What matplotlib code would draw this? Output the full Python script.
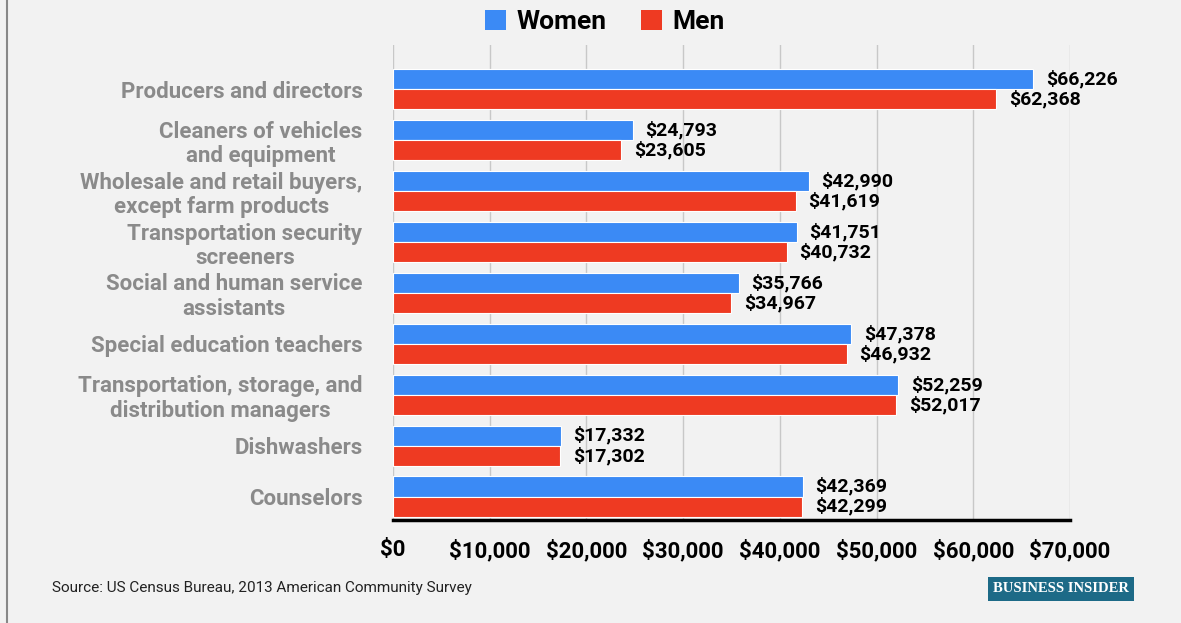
import matplotlib.pyplot as plt
import numpy as np
from matplotlib.lines import Line2D
from matplotlib.patches import Patch

plt.rcParams['font.family'] = ['Roboto', 'DejaVu Sans']

# ocupaciones y salario medio por sexo
categorias = [
    "Producers and directors",
    "Cleaners of vehicles\nand equipment",
    "Wholesale and retail buyers,\nexcept farm products",
    "Transportation security\nscreeners",
    "Social and human service\nassistants",
    "Special education teachers",
    "Transportation, storage, and\ndistribution managers",
    "Dishwashers",
    "Counselors",
]
mujeres = [66226, 24793, 42990, 41751, 35766, 47378, 52259, 17332, 42369]
hombres = [62368, 23605, 41619, 40732, 34967, 46932, 52017, 17302, 42299]
ticks_x = [0, 10000, 20000, 30000, 40000, 50000, 60000, 70000]

azul = "#3b8af5"
rojo = "#ee3a22"
fondo = "#f2f2f2"

fig = plt.figure(figsize=(11.81, 6.23), dpi=100, facecolor=fondo)
ax = fig.add_axes([0.3328, 0.1653, 0.5732, 0.7624])
ax.set_facecolor(fondo)

y = np.arange(len(categorias))
alto = 0.395
ax.barh(y - alto / 2, mujeres, height=alto, color=azul, edgecolor="white", linewidth=0.8, zorder=3)
ax.barh(y + alto / 2, hombres, height=alto, color=rojo, edgecolor="white", linewidth=0.8, zorder=3)

# etiquetas de valor
for i in range(len(categorias)):
    ax.text(mujeres[i] + 1300, y[i] - alto / 2, "${:,}".format(mujeres[i]),
            va="center", ha="left", fontsize=14, fontweight="bold", color="black")
    ax.text(hombres[i] + 1300, y[i] + alto / 2, "${:,}".format(hombres[i]),
            va="center", ha="left", fontsize=14, fontweight="bold", color="black")

ax.set_xlim(0, 70000)
ax.set_ylim(8.46, -0.87)
ax.set_xticks(ticks_x)
ax.set_xticklabels(["${:,}".format(t) for t in ticks_x], fontsize=16, fontweight="bold")
ax.set_yticks(y)
ax.set_yticklabels(categorias, fontsize=16, fontweight="bold", color="#8a8a8a",
                   multialignment="center", linespacing=1.15)
ax.tick_params(axis="both", length=0)
ax.tick_params(axis="x", pad=14)
ax.tick_params(axis="y", pad=22)
ax.grid(axis="x", color="#c8c8c8", linewidth=1, zorder=0)

for lado in ["top", "right", "left"]:
    ax.spines[lado].set_visible(False)
ax.spines["bottom"].set_color("black")
ax.spines["bottom"].set_linewidth(2.5)
ax.spines["bottom"].set_zorder(4)

# leyenda arriba
handles = [Patch(facecolor=azul, label="Women"), Patch(facecolor=rojo, label="Men")]
fig.legend(handles=handles, loc="upper center", bbox_to_anchor=(0.512, 1.022), ncol=2,
           frameon=False, prop={"size": 19, "weight": "bold"},
           handlelength=0.8, handleheight=0.8, handletextpad=0.4, columnspacing=1.3)

fig.text(52 / 1181, 1 - 588 / 623, "Source: US Census Bureau, 2013 American Community Survey",
         fontsize=11, va="center", ha="left", color="#222222")
fig.text(1061 / 1181, 1 - 589 / 623, "BUSINESS INSIDER", fontsize=10.5, fontweight="bold",
         family="Liberation Serif", color="white", va="center", ha="center",
         bbox=dict(boxstyle="square,pad=0.35", facecolor="#1d6a87", edgecolor="none"))

# borde izquierdo
fig.add_artist(Line2D([7 / 1181, 7 / 1181], [0, 1], color="#888888", linewidth=1.5,
                      transform=fig.transFigure))

fig.savefig("out.png", dpi=100, facecolor=fondo)
